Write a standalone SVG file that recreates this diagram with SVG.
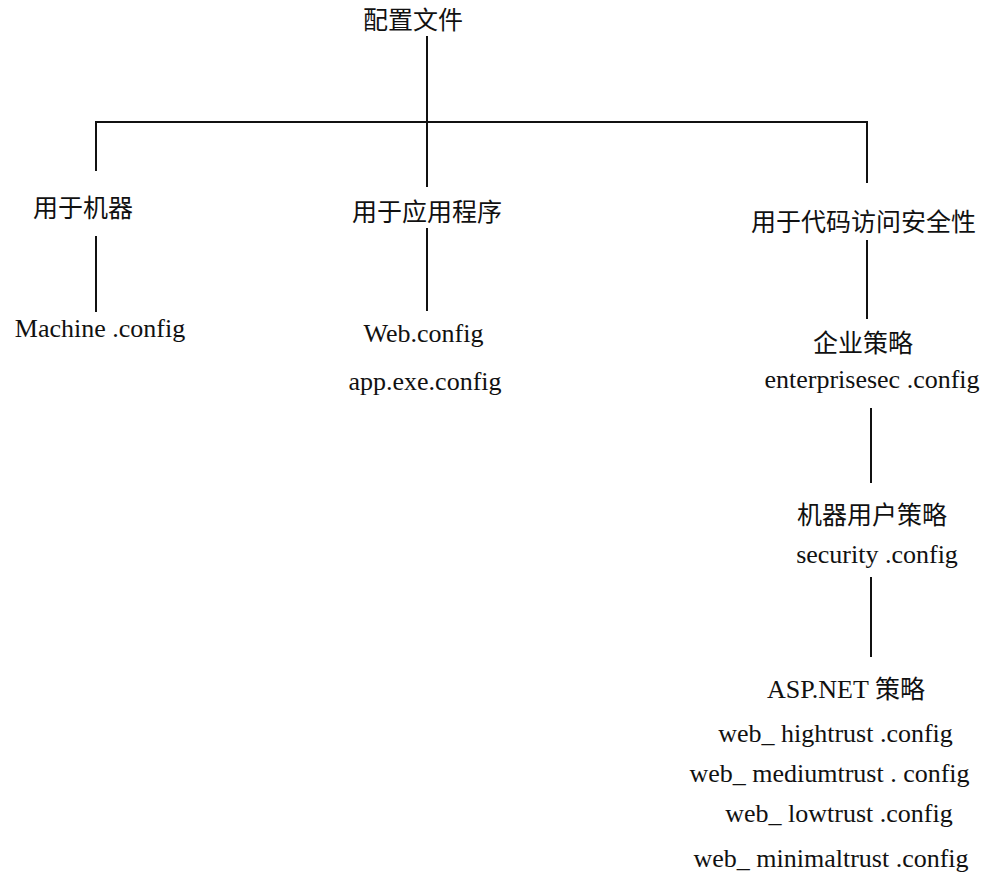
<svg xmlns="http://www.w3.org/2000/svg" width="1000" height="880" viewBox="0 0 1000 880">
<style>
.cjk{font-family:"Noto Sans CJK SC","Noto Sans",sans-serif;font-size:25px;fill:#111;text-anchor:middle}
.lat{font-family:"Liberation Serif","Times New Roman",serif;font-size:26px;fill:#111;text-anchor:middle}
.conn line{stroke:#111;stroke-width:2;fill:none}
</style>
<rect width="1000" height="880" fill="#fff"/>
<g id="connectors" class="conn">
<line x1="427" y1="36" x2="427" y2="187"/>
<line x1="95" y1="122" x2="868" y2="122"/>
<line x1="96" y1="122" x2="96" y2="171"/>
<line x1="867" y1="122" x2="867" y2="183"/>
<line x1="96" y1="236" x2="96" y2="312"/>
<line x1="427" y1="228" x2="427" y2="311"/>
<line x1="867" y1="240" x2="867" y2="319"/>
<line x1="871" y1="408" x2="871" y2="483"/>
<line x1="871" y1="577" x2="871" y2="657"/>
</g>
<g id="root"><text class="cjk" x="413" y="29">配置文件</text></g>
<g id="machine">
<text class="cjk" x="83" y="217">用于机器</text>
<text class="lat" x="100" y="337">Machine .config</text>
</g>
<g id="app">
<text class="cjk" x="427" y="221">用于应用程序</text>
<text class="lat" x="423.5" y="342">Web.config</text>
<text class="lat" x="425" y="390">app.exe.config</text>
</g>
<g id="cas"><text class="cjk" x="863.5" y="231">用于代码访问安全性</text></g>
<g id="enterprise">
<text class="cjk" x="863" y="352">企业策略</text>
<text class="lat" x="872" y="388">enterprisesec .config</text>
</g>
<g id="machineuser">
<text class="cjk" x="872" y="524">机器用户策略</text>
<text class="lat" x="877" y="563">security .config</text>
</g>
<g id="aspnet">
<text class="lat" x="767" y="698" style="text-anchor:start">ASP.NET <tspan class="cjk" style="text-anchor:start">策略</tspan></text>
<text class="lat" x="835.5" y="742">web_ hightrust .config</text>
<text class="lat" x="829.5" y="782">web_ mediumtrust . config</text>
<text class="lat" x="839" y="822">web_ lowtrust .config</text>
<text class="lat" x="831" y="867">web_ minimaltrust .config</text>
</g>
</svg>
